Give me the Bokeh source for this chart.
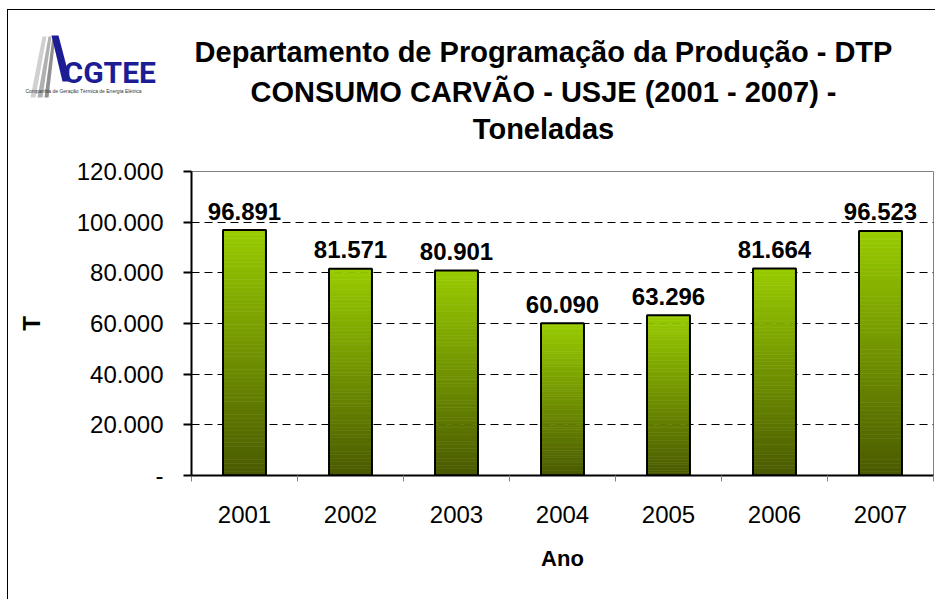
from bokeh.plotting import figure
from bokeh.layouts import column, row
from bokeh.models import Range1d, FixedTicker
from bokeh.core.properties import value
from bokeh.embed import file_html
from bokeh.resources import INLINE

# ---- data ----
years = ["2001", "2002", "2003", "2004", "2005", "2006", "2007"]
consumo = [96891, 81571, 80901, 60090, 63296, 81664, 96523]
y_ticks = [0, 20000, 40000, 60000, 80000, 100000, 120000]
y_tick_labels = ["-", "20.000", "40.000", "60.000", "80.000", "100.000", "120.000"]
title_lines = [
    "Departamento de Programação da Produção - DTP",
    "CONSUMO CARVÃO - USJE (2001 - 2007) -",
    "Toneladas",
]
x_title = "Ano"
y_title = "T"
logo_name = "CGTEE"
logo_sub = "Companhia de Geração Térmica de Energia Elétrica"

FONT = "Liberation Sans"

# ---- layout geometry (page pixels) ----
OX, OY = 8, 10          # top-left of the content inside the chart border
W = 927
HEAD_H = 140
MAIN_H = 589 - HEAD_H
TXT = 9                 # baseline compensation for text glyphs (px)

# ---- header figure: title + logo (page coordinates, y downwards) ----
head = figure(width=W, height=HEAD_H, x_range=Range1d(OX, OX + W), y_range=Range1d(OY + HEAD_H, OY),
              x_axis_type=None, y_axis_type=None, output_backend="svg", toolbar_location=None,
              min_border=0, min_border_left=0, min_border_right=0, min_border_top=0, min_border_bottom=0)
head.outline_line_color = None
head.xgrid.visible = False
head.ygrid.visible = False
head.background_fill_color = "white"
head.border_fill_color = "white"

head.text(x=[543, 543, 543], y=[60.7 - TXT, 100.0 - TXT, 137.3 - TXT], text=title_lines,
          text_align="center", text_baseline="alphabetic", text_font=value(FONT),
          text_font_style="bold", text_font_size="29px", text_color="black")

# logo: grey stripes, blue stroke, name and subtitle
stripe_xs = [[30, 35, 46, 42], [37, 42, 51, 48], [44, 48, 55, 52]]
stripe_ys = [[97, 97, 36, 36]] * 3
head.patches(xs=stripe_xs, ys=stripe_ys, fill_color=["#d0d0d0", "#b0b0b0", "#909090"], line_alpha=0)
head.patches(xs=[[51, 58, 70, 62]], ys=[[35, 35, 81, 81]], fill_color="#1c1c94", line_alpha=0)
head.text(x=[63], y=[81 - TXT], text=[logo_name], text_align="left", text_baseline="alphabetic",
          text_font=value("Roboto"), text_font_style="bold", text_font_size="30px",
          text_color="#1c1c94")
head.text(x=[25], y=[93 - 3], text=[logo_sub], text_align="left", text_baseline="alphabetic",
          text_font=value(FONT), text_font_size="5px", text_color="#333333")

# ---- main chart ----
FRAME_L, FRAME_R, FRAME_T, FRAME_B = 191, 933, 171, 475
p = figure(width=W, height=MAIN_H, x_range=Range1d(0, len(years)), y_range=Range1d(0, 120000),
           output_backend="svg", toolbar_location=None,
           min_border_left=FRAME_L - OX, min_border_right=OX + W - FRAME_R,
           min_border_top=FRAME_T - OY - HEAD_H, min_border_bottom=OY + HEAD_H + MAIN_H - FRAME_B)
p.background_fill_color = "white"
p.border_fill_color = "white"
p.outline_line_color = "#808080"
p.outline_line_width = 1

centers = [i + 0.5 for i in range(len(years))]

# gradient bars (light top -> dark bottom)
top_rgb = (0x99, 0xCC, 0x00)
bot_rgb = (0x4A, 0x5A, 0x00)
N = 60
gx, gb, gt, gc = [], [], [], []
for c, v in zip(centers, consumo):
    for k in range(N):
        f = (k + 0.5) / N
        col = tuple(int(bot_rgb[j] + (top_rgb[j] - bot_rgb[j]) * f) for j in range(3))
        gx.append(c)
        gb.append(v * k / N)
        gt.append(v * (k + 1) / N)
        gc.append("#%02x%02x%02x" % col)
BAR_W = 0.405
p.vbar(x=gx, bottom=gb, top=gt, width=BAR_W, fill_color=gc, line_color=gc, line_width=0.6)
p.vbar(x=centers, top=consumo, width=BAR_W, fill_color=None, line_color="black", line_width=2)

labels = [f"{v:,}".replace(",", ".") for v in consumo]
p.text(x=centers, y=consumo, text=labels, text_align="center", text_baseline="alphabetic",
       y_offset=-(10 + TXT), text_font=value(FONT), text_font_style="bold", text_font_size="24px",
       text_color="black")

# axes
xa = p.xaxis[0]
xa.ticker = FixedTicker(ticks=centers, minor_ticks=list(range(len(years) + 1)))
xa.major_label_overrides = {c: y for c, y in zip(centers, years)}
xa.major_tick_out = 0
xa.major_tick_in = 0
xa.minor_tick_out = 6
xa.minor_tick_in = 0
xa.minor_tick_line_color = "#808080"
xa.axis_line_color = "black"
xa.axis_line_width = 2
xa.major_label_text_font = FONT
xa.major_label_text_font_size = "24px"
xa.major_label_text_color = "black"
xa.major_label_standoff = 24
xa.axis_label = x_title
xa.axis_label_text_font = FONT
xa.axis_label_text_font_style = "bold"
xa.axis_label_text_font_size = "22px"
xa.axis_label_text_color = "black"
xa.axis_label_standoff = 20

ya = p.yaxis[0]
ya.ticker = FixedTicker(ticks=y_ticks)
ya.major_label_overrides = {t: s for t, s in zip(y_ticks, y_tick_labels)}
ya.major_tick_out = 8
ya.major_tick_in = 0
ya.major_tick_line_width = 2
ya.major_tick_line_color = "black"
ya.minor_tick_out = 0
ya.minor_tick_in = 0
ya.axis_line_color = "black"
ya.axis_line_width = 2
ya.major_label_text_font = FONT
ya.major_label_text_font_size = "24px"
ya.major_label_text_color = "black"
ya.major_label_standoff = 20
ya.axis_label = y_title
ya.axis_label_text_font = FONT
ya.axis_label_text_font_style = "bold"
ya.axis_label_text_font_size = "24px"
ya.axis_label_text_color = "black"
ya.axis_label_standoff = 29

p.xgrid.visible = False
p.ygrid.ticker = FixedTicker(ticks=y_ticks)
p.ygrid.grid_line_color = "black"
p.ygrid.grid_line_dash = "8 5"
p.ygrid.grid_line_width = 1

root = column(row(head), p, spacing=0, margin=(OY - 1, 0, 0, OX - 1),
              styles={"border-left": "1px solid black", "border-top": "1px solid black"})

open("out.html", "w").write(file_html(root, INLINE))
